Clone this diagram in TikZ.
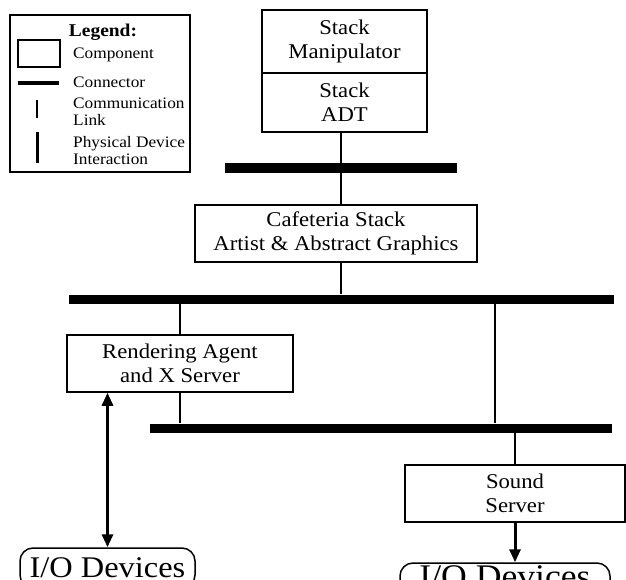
\documentclass[tikz,border=0pt]{standalone}
\usepackage{fontspec}
\setmainfont{Liberation Serif}[FakeStretch=1.08]
\usetikzlibrary{arrows.meta}

\begin{document}
\begin{tikzpicture}[x=1pt,y=-1pt,>={Triangle[width=11pt,length=13pt]}]
				\useasboundingbox (0,0) rectangle (626,579);
				\clip (0,0) rectangle (626,579);

				\begin{scope}[every node/.style={draw,line width=1.5pt,inner sep=0pt,align=center,font=\fontsize{21}{24}\selectfont}]
					\node[minimum width=165pt,minimum height=63pt] (SM) at (344.5,41.5) {Stack\\Manipulator};
					\node[minimum width=165pt,minimum height=59pt] (ADT) at (344.5,102.5) {Stack\\ADT};
					\node[minimum width=282pt,minimum height=57pt] (CS) at (336,233.5) {Cafeteria Stack\\Artist \& Abstract Graphics};
					\node[minimum width=226pt,minimum height=57pt] (RA) at (180,363.5) {Rendering Agent\\and X Server};
					\node[minimum width=220pt,minimum height=57pt] (SS) at (515,493.5) {Sound\\Server};
				\end{scope}

				\begin{scope}[every node/.style={fill=black,inner sep=0pt}]
					\node[minimum width=232pt,minimum height=10pt] (B1) at (341,168) {};
					\node[minimum width=545pt,minimum height=9pt] (B2) at (341,299) {};
					\node[minimum width=462pt,minimum height=9pt] (B3) at (381,428) {};
				\end{scope}

				\begin{scope}[every node/.style={draw,line width=1.5pt,rounded corners=13pt,inner sep=0pt}]
					\node[minimum width=175pt,minimum height=40pt,font=\fontsize{30}{30}\selectfont] (IO1) at (107.5,568) {I/O Devices};
					\node[minimum width=210pt,minimum height=32pt,font=\fontsize{33}{33}\selectfont] (IO2) at (505,579) {\raisebox{4pt}{I/O Devices}};
				\end{scope}

				\begin{scope}[every node/.style={inner sep=0pt,anchor=base west,align=left,font=\fontsize{16}{17}\selectfont}]
					\node[draw,line width=1.5pt,anchor=center,minimum width=180pt,minimum height=157pt] (LG) at (100,93.5) {};
					\node[anchor=base,font=\fontsize{18}{18}\selectfont\bfseries] (LT) at (103,36) {Legend:};
					\node[draw,line width=1.5pt,anchor=center,minimum width=42pt,minimum height=27pt] (LC) at (39,53.5) {};
					\node (LCt) at (73,58) {Component};
					\node (LBt) at (73,87) {Connector};
					\node (LLt) at (73,125) {Communication\\Link};
					\node (LPt) at (73,164) {Physical Device\\Interaction};
				\end{scope}

				\begin{scope}
					\draw[line width=4pt] (18,83) -- (59,83);
					\draw[line width=1.6pt] (37,100) -- (37,118);
					\draw[line width=3pt] (37,132) -- (37,163);
				\end{scope}

				\coordinate (C1) at (495,0);

				\begin{scope}[line width=1.6pt]
					\path (ADT.south -| B1) edge (B1);
					\path (B1) edge (B1.south |- CS.north);
					\path (CS.south -| B1) edge (B2);
					\path (B2.south -| RA) edge (RA);
					\path (RA) edge (RA.south |- B3.north);
					\path (B2.south -| C1) edge (B3.north -| C1);
					\path (B3.south -| SS) edge (SS);
				\end{scope}

				\begin{scope}[line width=3pt]
					\path (SS) edge[->] (SS.south |- IO2.north);
					\path (RA.south -| IO1) edge[<->] (IO1);
				\end{scope}
			\end{tikzpicture}
\end{document}
